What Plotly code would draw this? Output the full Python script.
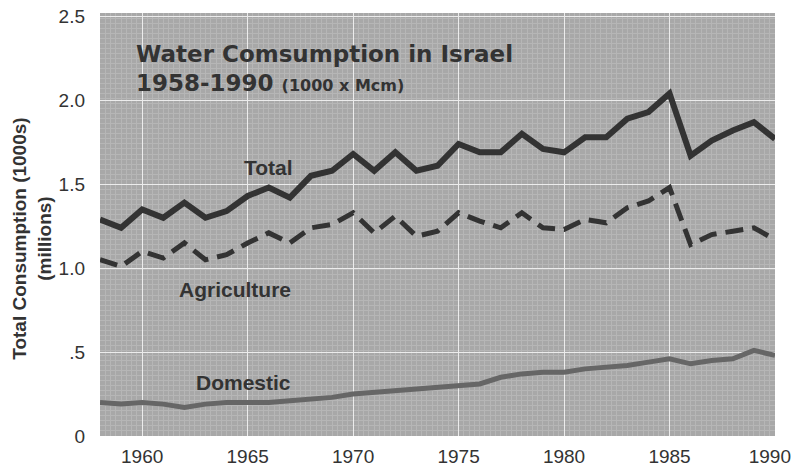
import plotly.graph_objects as go

years = list(range(1958, 1991))
total = [1.29, 1.24, 1.35, 1.30, 1.39, 1.30, 1.34, 1.43, 1.48, 1.42, 1.55, 1.58, 1.68, 1.58, 1.69,
         1.58, 1.61, 1.74, 1.69, 1.69, 1.80, 1.71, 1.69, 1.78, 1.78, 1.89, 1.93, 2.04, 1.67, 1.76,
         1.82, 1.87, 1.77]
agriculture = [1.05, 1.01, 1.10, 1.06, 1.15, 1.05, 1.08, 1.15, 1.21, 1.15, 1.24, 1.26, 1.33, 1.21, 1.31,
               1.19, 1.22, 1.33, 1.28, 1.24, 1.33, 1.24, 1.23, 1.29, 1.27, 1.36, 1.40, 1.48, 1.14, 1.20,
               1.22, 1.24, 1.17]
domestic = [0.20, 0.19, 0.20, 0.19, 0.17, 0.19, 0.20, 0.20, 0.20, 0.21, 0.22, 0.23, 0.25, 0.26, 0.27,
            0.28, 0.29, 0.30, 0.31, 0.35, 0.37, 0.38, 0.38, 0.40, 0.41, 0.42, 0.44, 0.46, 0.43, 0.45,
            0.46, 0.51, 0.48]

y_tickvals = [0, 0.5, 1.0, 1.5, 2.0, 2.5]
y_ticktext = ["0", ".5", "1.0", "1.5", "2.0", "2.5"]
x_tickvals = [1960, 1965, 1970, 1975, 1980, 1985]
x_last_tick = [1990]

FONT = "Liberation Sans, Arial, sans-serif"
HEAVY = "DejaVu Sans, Liberation Sans, sans-serif"
INK = "#333333"

fig = go.Figure()
fig.add_trace(go.Scatter(x=years, y=domestic, mode="lines",
                         line=dict(color="#666666", width=5), name="Domestic"))
fig.add_trace(go.Scatter(x=years, y=agriculture, mode="lines",
                         line=dict(color=INK, width=5, dash="18px,9px"), name="Agriculture"))
fig.add_trace(go.Scatter(x=years, y=total, mode="lines",
                         line=dict(color=INK, width=6), name="Total"))
# helper trace (invisible) so the second x axis carrying the last tick label is drawn
fig.add_trace(go.Scatter(x=years, y=total, mode="lines", xaxis="x2",
                         line=dict(width=0), opacity=0, hoverinfo="skip", showlegend=False))

fig.update_layout(
    width=795, height=467,
    margin=dict(l=100, r=20, t=13, b=31),
    paper_bgcolor="white",
    plot_bgcolor="#a8a8a8",
    showlegend=False,
    font=dict(family=FONT, color=INK, size=19),
    xaxis=dict(range=[1958, 1990], tickvals=x_tickvals, showgrid=True,
               gridcolor="#ececec", gridwidth=1, zeroline=False, showline=False, automargin=False,
               ticklabeloverflow="allow",
               ticks="", ticklabelstandoff=7, tickfont=dict(size=19, color=INK),
               minor=dict(dtick=0.25, showgrid=True, gridcolor="#b6b6b6", gridwidth=1)),
    xaxis2=dict(range=[1958, 1990], overlaying="x", side="bottom", tickvals=x_last_tick,
                showgrid=True, gridcolor="#ececec", gridwidth=1, zeroline=False, showline=False,
                automargin=False, ticklabeloverflow="allow", ticks="",
                ticklabelposition="outside left", ticklabelshift=16, ticklabelstandoff=7,
                tickfont=dict(size=19, color=INK)),
    yaxis=dict(range=[0, 2.52], tickvals=y_tickvals, ticktext=y_ticktext, showgrid=True,
               gridcolor="#ececec", gridwidth=1, zeroline=False, showline=False, automargin=False,
               ticklabeloverflow="allow",
               ticks="", ticklabelstandoff=14, tickfont=dict(size=19, color=INK),
               minor=dict(dtick=0.03, showgrid=True, gridcolor="#b6b6b6", gridwidth=1)),
)

fig.add_annotation(xref="paper", yref="paper", x=0.05, y=0.903, xanchor="left", yanchor="middle",
                   text="<b>Water Comsumption in Israel</b>", showarrow=False,
                   font=dict(size=23, color=INK, family=HEAVY))
fig.add_annotation(xref="paper", yref="paper", x=0.05, y=0.834, xanchor="left", yanchor="middle",
                   text="<b>1958-1990 <span style='font-size:16px'>(1000 x Mcm)</span></b>", showarrow=False,
                   font=dict(size=23, color=INK, family=HEAVY))
fig.add_annotation(x=1966.0, y=1.60, text="<b>Total</b>", showarrow=False,
                   font=dict(size=21, color=INK, family=FONT))
fig.add_annotation(x=1964.4, y=0.875, text="<b>Agriculture</b>", showarrow=False,
                   font=dict(size=21, color=INK, family=FONT))
fig.add_annotation(x=1964.8, y=0.32, text="<b>Domestic</b>", showarrow=False,
                   font=dict(size=21, color=INK, family=FONT))
fig.add_annotation(xref="paper", yref="paper", x=-0.1, y=0.465, xanchor="center", yanchor="middle",
                   text="<b>Total Consumption (1000s)<br>(millions)</b>", showarrow=False,
                   textangle=-90, font=dict(size=19, color=INK, family=FONT))

fig.write_html("out.html", post_script="document.body.style.margin='0';",
               config={"displayModeBar": False})
